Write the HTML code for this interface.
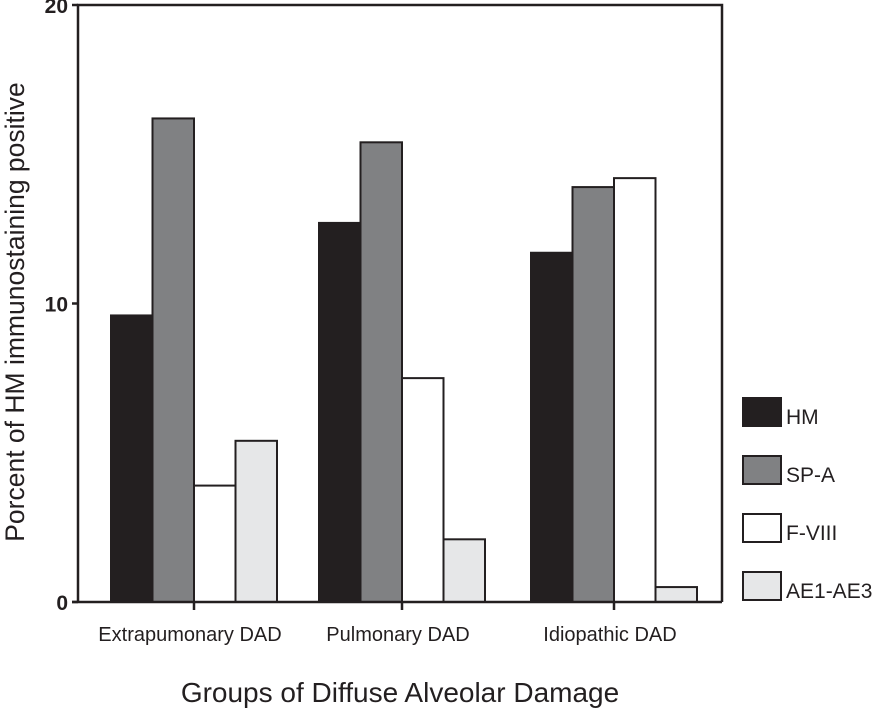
<!DOCTYPE html>
<html><head><meta charset="utf-8"><style>
body{margin:0;background:#fff}
svg{display:block;font-family:"Liberation Sans",Arial,sans-serif}
</style></head><body>
<svg id="c" width="877" height="714"></svg>
<script>
const categories=["Extrapumonary DAD","Pulmonary DAD","Idiopathic DAD"];
const seriesNames=["HM","SP-A","F-VIII","AE1-AE3"];
const hm=[9.6,12.7,11.7];
const spa=[16.2,15.4,13.9];
const f8=[3.9,7.5,14.2];
const ae=[5.4,2.1,0.5];
const yTicks=[0,10,20];
const series=[hm,spa,f8,ae];
const colors=["#231f20","#808183","#ffffff","#e6e7e8"];
const NS="http://www.w3.org/2000/svg";
const svg=document.getElementById('c');
const x0=78,x1=722,yTop=5,yBot=602;
const y=v=>yBot-(v/20)*(yBot-yTop);
const groupCenters=[194,402,614];
const barW=41.5;
function mk(t,a,p){const e=document.createElementNS(NS,t);for(const k in a)e.setAttribute(k,a[k]);(p||svg).appendChild(e);return e;}
series.forEach((s,si)=>{s.forEach((v,ci)=>{
 const bx=groupCenters[ci]+(si-2)*barW;
 const r=mk('rect',{x:bx,y:y(v),width:barW,height:yBot-y(v),fill:colors[si],stroke:'#231f20','stroke-width':2});
 
 
});});
const fr=mk('path',{d:`M${x0},${yBot}V${yTop}H${x1}V${yBot}`,fill:'none',stroke:'#231f20','stroke-width':2.5});


const xa=mk('line',{x1:x0-6,y1:yBot,x2:x1,y2:yBot,stroke:'#231f20','stroke-width':2.5});


yTicks.forEach(t=>{
 mk('line',{x1:x0-6,y1:y(t),x2:x0,y2:y(t),stroke:'#231f20','stroke-width':2.5});
 const tx=mk('text',{x:x0-10,y:y(t)+8,'text-anchor':'end','font-size':21,'font-weight':'bold',fill:'#231f20'});
 tx.textContent=t;
 
 
});
categories.forEach((c,i)=>{
 mk('line',{x1:groupCenters[i],y1:yBot,x2:groupCenters[i],y2:yBot+8,stroke:'#231f20','stroke-width':2.5});
 const tx=mk('text',{x:groupCenters[i]-4,y:641,'text-anchor':'middle','font-size':20,fill:'#231f20'});
 tx.textContent=c;
 
 
});
const xt=mk('text',{x:400,y:702,'text-anchor':'middle','font-size':28,fill:'#231f20'});
xt.textContent="Groups of Diffuse Alveolar Damage";


const yt=mk('text',{x:0,y:0,'text-anchor':'middle','font-size':26.5,fill:'#231f20',transform:'translate(24,312) rotate(-90)'});
yt.textContent="Porcent of HM immunostaining positive";


seriesNames.forEach((n,i)=>{
 const ly=398+i*58;
 const g=mk('g',{});
 
 
 mk('rect',{x:743,y:ly,width:38,height:28,fill:colors[i],stroke:'#231f20','stroke-width':2},g);
 const t=mk('text',{x:786,y:ly+26,'font-size':21,fill:'#231f20'},g);
 t.textContent=n;
});
</script>
</body></html>
